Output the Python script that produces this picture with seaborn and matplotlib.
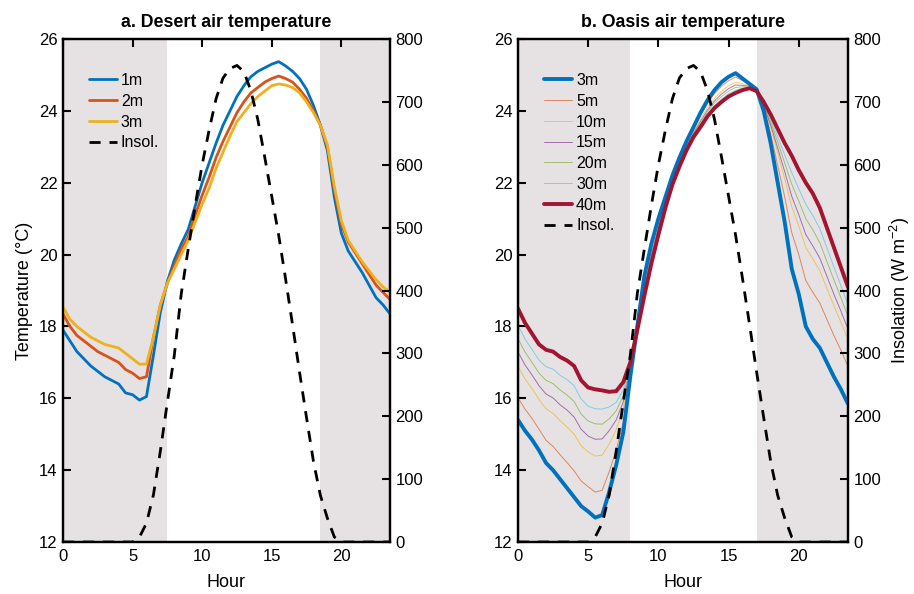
import numpy as np
import pandas as pd
import matplotlib
matplotlib.use("Agg")
import matplotlib.pyplot as plt
import seaborn as sns
from matplotlib.lines import Line2D

sns.set_theme(style="white")
plt.rcParams['font.family'] = ['Liberation Sans', 'DejaVu Sans']
plt.rcParams['mathtext.fontset'] = 'custom'
plt.rcParams['mathtext.rm'] = 'Liberation Sans'
plt.rcParams['text.color'] = 'black'
plt.rcParams['axes.labelcolor'] = 'black'
plt.rcParams['axes.titlecolor'] = 'black'
plt.rcParams['xtick.color'] = 'black'
plt.rcParams['ytick.color'] = 'black'

hours = [i * 0.5 for i in range(48)]

insolation = [0, 0, 0, 0, 0, 0, 0, 0, 0, 0, 0, 8,
              30, 75, 145, 222, 297, 395, 466, 535, 600, 655, 705, 738,
              753, 758, 748, 718, 672, 612, 550, 488, 418, 345, 270, 198,
              128, 74, 38, 8, 0, 0, 0, 0, 0, 0, 0, 0]

desert_1m = [17.9, 17.6, 17.3, 17.1, 16.9, 16.75, 16.6, 16.5, 16.4, 16.15, 16.1, 15.95,
             16.05, 17.2, 18.4, 19.25, 19.85, 20.3, 20.7, 21.35, 22.0, 22.55, 23.1, 23.6,
             24.0, 24.4, 24.7, 24.95, 25.1, 25.2, 25.3, 25.37, 25.25, 25.1, 24.9, 24.6,
             24.15, 23.6, 22.9, 21.6, 20.6, 20.1, 19.8, 19.5, 19.15, 18.8, 18.6, 18.35]
desert_2m = [18.35, 18.0, 17.75, 17.6, 17.45, 17.3, 17.2, 17.1, 17.0, 16.8, 16.7, 16.55,
             16.6, 17.7, 18.6, 19.2, 19.7, 20.15, 20.5, 21.1, 21.65, 22.15, 22.7, 23.15,
             23.55, 23.95, 24.25, 24.5, 24.65, 24.8, 24.9, 24.97, 24.9, 24.8, 24.6, 24.35,
             24.0, 23.6, 23.0, 21.8, 20.85, 20.35, 20.05, 19.75, 19.45, 19.15, 18.95, 18.75]
desert_3m = [18.55, 18.2, 18.0, 17.85, 17.7, 17.6, 17.5, 17.45, 17.4, 17.25, 17.1, 16.95,
             16.95, 17.7, 18.6, 19.2, 19.6, 20.0, 20.4, 20.9, 21.4, 21.85, 22.4, 22.85,
             23.3, 23.7, 23.95, 24.2, 24.4, 24.55, 24.7, 24.75, 24.72, 24.65, 24.5, 24.25,
             23.95, 23.6, 23.05, 21.9, 20.95, 20.4, 20.1, 19.8, 19.55, 19.3, 19.1, 18.95]

oasis_3m = [15.4, 15.1, 14.85, 14.55, 14.2, 14.0, 13.75, 13.5, 13.25, 13.0, 12.85, 12.68,
            12.75, 13.4, 14.15, 15.05, 16.6, 18.0, 19.4, 20.3, 21.0, 21.6, 22.2, 22.7,
            23.15, 23.55, 23.95, 24.3, 24.58, 24.8, 24.95, 25.05, 24.9, 24.75, 24.6, 24.0,
            23.1, 22.0, 20.9, 19.6, 18.9, 18.0, 17.65, 17.4, 17.0, 16.6, 16.25, 15.85]
oasis_5m = [16.02, 15.7, 15.44, 15.14, 14.83, 14.66, 14.43, 14.21, 13.98, 13.7, 13.54, 13.39,
            13.44, 13.96, 14.56, 15.33, 16.68, 17.98, 19.29, 20.19, 20.91, 21.54, 22.15, 22.65,
            23.1, 23.49, 23.87, 24.21, 24.48, 24.69, 24.84, 24.94, 24.84, 24.73, 24.59, 24.08,
            23.36, 22.48, 21.6, 20.61, 20.0, 19.28, 18.95, 18.65, 18.2, 17.75, 17.34, 16.89]
oasis_10m = [16.89, 16.54, 16.27, 15.97, 15.71, 15.58, 15.38, 15.2, 15.0, 14.68, 14.51, 14.39,
             14.42, 14.73, 15.13, 15.72, 16.79, 17.95, 19.15, 20.05, 20.8, 21.46, 22.09, 22.59,
             23.04, 23.42, 23.77, 24.1, 24.35, 24.55, 24.7, 24.8, 24.76, 24.7, 24.58, 24.14,
             23.54, 22.83, 22.11, 21.33, 20.8, 20.2, 19.88, 19.55, 19.06, 18.58, 18.12, 17.64]
oasis_15m = [17.29, 16.93, 16.65, 16.35, 16.12, 16.01, 15.82, 15.67, 15.48, 15.14, 14.95, 14.86,
             14.87, 15.1, 15.4, 15.9, 16.84, 17.94, 19.07, 19.97, 20.73, 21.42, 22.05, 22.55,
             23.0, 23.38, 23.71, 24.03, 24.28, 24.47, 24.62, 24.72, 24.71, 24.68, 24.57, 24.16,
             23.61, 22.96, 22.31, 21.62, 21.11, 20.56, 20.24, 19.9, 19.4, 18.9, 18.43, 17.93]
oasis_20m = [17.66, 17.29, 17.0, 16.7, 16.5, 16.41, 16.23, 16.09, 15.91, 15.56, 15.37, 15.29,
             15.28, 15.43, 15.65, 16.07, 16.89, 17.93, 19.0, 19.9, 20.68, 21.38, 22.02, 22.52,
             22.97, 23.35, 23.66, 23.98, 24.22, 24.4, 24.55, 24.65, 24.67, 24.66, 24.56, 24.19,
             23.7, 23.13, 22.55, 21.96, 21.49, 21.0, 20.69, 20.33, 19.81, 19.3, 18.8, 18.29]
oasis_30m = [18.04, 17.65, 17.36, 17.06, 16.88, 16.81, 16.64, 16.52, 16.35, 15.98, 15.78, 15.71,
             15.7, 15.76, 15.89, 16.24, 16.94, 17.91, 18.93, 19.83, 20.62, 21.34, 21.99, 22.49,
             22.94, 23.31, 23.61, 23.92, 24.15, 24.33, 24.48, 24.58, 24.63, 24.65, 24.56, 24.21,
             23.78, 23.28, 22.77, 22.28, 21.83, 21.4, 21.09, 20.72, 20.19, 19.66, 19.14, 18.61]
oasis_40m = [18.5, 18.1, 17.8, 17.5, 17.35, 17.3, 17.15, 17.05, 16.9, 16.5, 16.3, 16.25,
             16.22, 16.18, 16.2, 16.45, 17.0, 17.9, 18.85, 19.75, 20.55, 21.3, 21.95, 22.45,
             22.9, 23.27, 23.55, 23.85, 24.08, 24.25, 24.4, 24.5, 24.58, 24.63, 24.55, 24.25,
             23.9, 23.5, 23.1, 22.75, 22.35, 22.0, 21.7, 21.3, 20.75, 20.2, 19.65, 19.1]

desert_labels = ['1m', '2m', '3m']
oasis_labels = ['3m', '5m', '10m', '15m', '20m', '30m', '40m']
desert_night = [(0, 7.5), (18.5, 23.5)]
oasis_night = [(0, 8.0), (17.0, 23.5)]

C_BLUE, C_ORANGE, C_YELLOW = '#0072BD', '#D95319', '#EDB120'
C_PURPLE, C_GREEN, C_CYAN, C_RED = '#7E2F8E', '#77AC30', '#4DBEEE', '#A2142F'
SHADE = '#e6e2e3'

fig = plt.figure(figsize=(9.14, 5.94), dpi=100)
axL = fig.add_axes([0.0689, 0.0875, 0.3578, 0.8468])
axR = fig.add_axes([0.5667, 0.0875, 0.3610, 0.8468])


def style_axes(ax, ax2):
    for a in (ax, ax2):
        for s in a.spines.values():
            s.set_linewidth(1.6)
            s.set_color('black')
    ax.set_xlim(0, 23.5)
    ax.set_ylim(12, 26)
    ax.set_xticks([0, 5, 10, 15, 20])
    ax.set_yticks([12, 14, 16, 18, 20, 22, 24, 26])
    ax.tick_params(axis='x', direction='in', length=6, width=1.5, top=True,
                   labelsize=12, pad=5, colors='black')
    ax.tick_params(axis='y', direction='in', length=6, width=1.5, right=False,
                   labelsize=12, pad=4, colors='black')
    ax2.set_ylim(0, 800)
    ax2.set_yticks([0, 100, 200, 300, 400, 500, 600, 700, 800])
    ax2.tick_params(axis='y', direction='in', length=6, width=1.5,
                    labelsize=12, pad=4, colors='black')
    ax.set_xlabel('Hour', fontsize=13, labelpad=7, color='black')
    ax.grid(False)
    ax2.grid(False)


LEG_KW = dict(loc='upper left', frameon=False, fontsize=11.5, handlelength=1.75,
              handletextpad=0.25, labelspacing=0.36,
              bbox_to_anchor=(0.06, 0.945), borderaxespad=0, labelcolor='black')

# ---- Panel a ----
for a, b in desert_night:
    axL.axvspan(a, b, color=SHADE, lw=0, zorder=0)
for vals, col, lab in zip([desert_1m, desert_2m, desert_3m],
                          [C_BLUE, C_ORANGE, C_YELLOW], desert_labels):
    sns.lineplot(x=hours, y=vals, ax=axL, color=col, lw=2.0, zorder=3)
axL2 = axL.twinx()
sns.lineplot(x=hours, y=insolation, ax=axL2, color='black', lw=2.0, zorder=2)
axL2.lines[0].set_dashes((4, 3.2))
style_axes(axL, axL2)
axL.set_ylabel('Temperature (°C)', fontsize=13, labelpad=4, color='black')
axL2.set_ylabel('')
axL.set_title('a. Desert air temperature', fontsize=12.8, fontweight='bold', pad=9, color='black')
hL = [Line2D([], [], color=c, lw=2.0) for c in [C_BLUE, C_ORANGE, C_YELLOW]]
hL.append(Line2D([], [], color='black', lw=2.0, dashes=(4, 3.2)))
axL2.legend(hL, desert_labels + ['Insol.'], **LEG_KW)

# ---- Panel b ----
for a, b in oasis_night:
    axR.axvspan(a, b, color=SHADE, lw=0, zorder=0)
oasis_series = [oasis_3m, oasis_5m, oasis_10m, oasis_15m, oasis_20m, oasis_30m, oasis_40m]
oasis_colors = [C_BLUE, C_ORANGE, C_YELLOW, C_PURPLE, C_GREEN, C_CYAN, C_RED]
oasis_lw = [2.8, 0.7, 0.7, 0.7, 0.7, 0.7, 2.8]
oasis_alpha = [1, 0.65, 0.65, 0.65, 0.65, 0.65, 1]
for vals, col, lw, al in zip(oasis_series[1:-1], oasis_colors[1:-1], oasis_lw[1:-1], oasis_alpha[1:-1]):
    sns.lineplot(x=hours, y=vals, ax=axR, color=col, lw=lw, alpha=al, zorder=2)
sns.lineplot(x=hours, y=oasis_series[0], ax=axR, color=C_BLUE, lw=2.8, zorder=3)
sns.lineplot(x=hours, y=oasis_series[-1], ax=axR, color=C_RED, lw=2.8, zorder=3)
axR2 = axR.twinx()
sns.lineplot(x=hours, y=insolation, ax=axR2, color='black', lw=2.0, zorder=2)
axR2.lines[0].set_dashes((4, 3.2))
style_axes(axR, axR2)
axR.set_ylabel('')
axR2.set_ylabel('Insolation (W m$^{-2}$)', fontsize=13, labelpad=5, color='black')
axR.set_title('b. Oasis air temperature', fontsize=12.8, fontweight='bold', pad=9, color='black')
hR = [Line2D([], [], color=c, lw=w, alpha=al) for c, w, al in zip(oasis_colors, oasis_lw, oasis_alpha)]
hR.append(Line2D([], [], color='black', lw=2.0, dashes=(4, 3.2)))
axR2.legend(hR, oasis_labels + ['Insol.'], **LEG_KW)

fig.savefig('out.png', dpi=100)
